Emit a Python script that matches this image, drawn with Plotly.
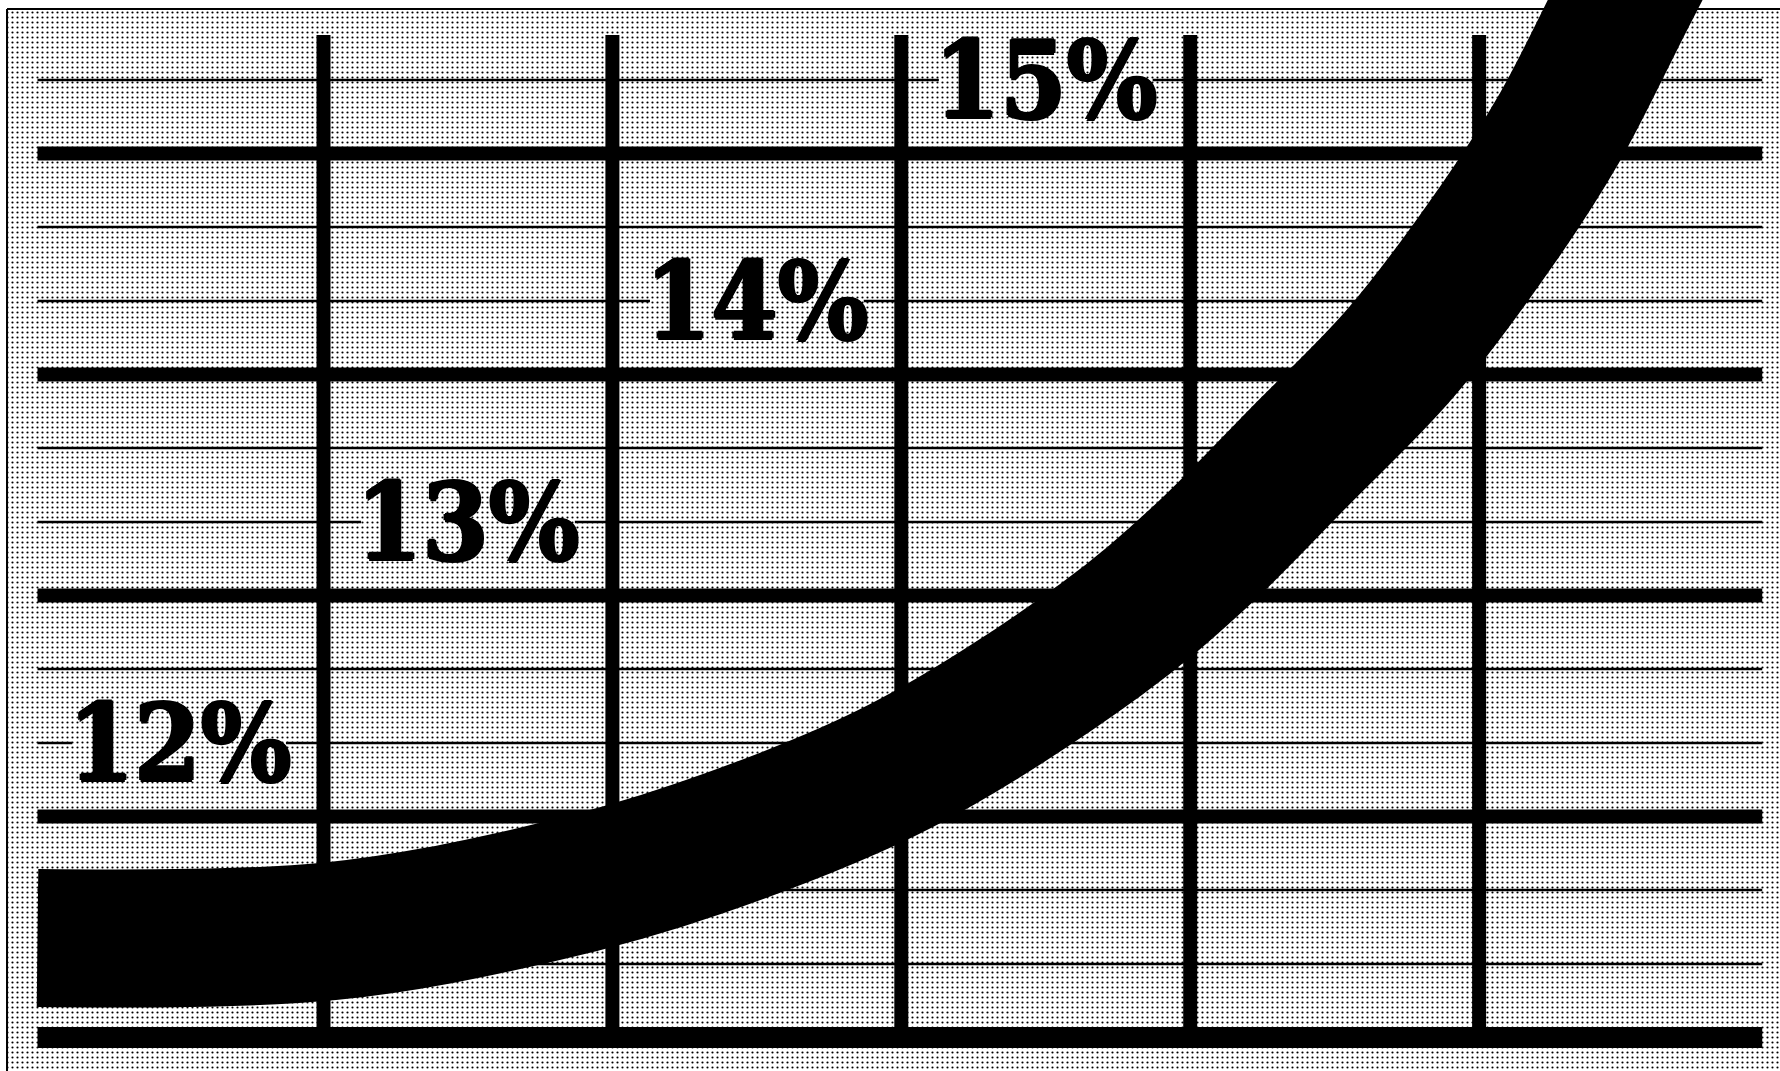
import plotly.graph_objects as go

# ---------------- data ----------------
x_verticals = [1, 2, 3, 4, 5]                 # heavy vertical rules
y_major = [0, 1, 2, 3, 4]                     # heavy horizontal rules
y_minor = [0.333, 0.667, 1.333, 1.667, 2.333, 2.667, 3.333, 3.667, 4.333]  # thin rules
rate_labels = ["12%", "13%", "14%", "15%"]
label_x = [0.5, 1.5, 2.5, 3.5]
label_y = [1.333, 2.333, 3.333, 4.333]
band_x = [0.01, 1.02, 1.75, 2.30, 3.00, 3.69, 4.03, 4.38, 4.73, 5.07, 5.28, 5.505, 5.70]
band_y = [0.45, 0.48, 0.65, 0.855, 1.23, 1.80, 2.17, 2.63, 3.10, 3.69, 4.12, 4.695, 5.19]

# ---------------- layout constants ----------------
GX0, GX1 = 0.01, 5.98        # horizontal rule extent
VTOP = 4.536                 # top of vertical rules
GAP = 0.37                   # half-width of the break in a rule behind a label
XR = [-0.1198, 6.0415]
YR = [-0.1516, 4.6946]
FRAME_X0, FRAME_Y1 = -0.0955, 4.654

fig = go.Figure()

# stippled panel with thin frame
fig.add_trace(go.Scatter(
    x=[FRAME_X0, 6.3, 6.3, FRAME_X0, FRAME_X0],
    y=[FRAME_Y1, FRAME_Y1, -0.4, -0.4, FRAME_Y1],
    mode="lines", fill="toself", fillcolor="white",
    fillpattern=dict(shape=".", fgcolor="black", bgcolor="white",
                     size=5, solidity=0.15, fillmode="replace"),
    line=dict(color="black", width=2), hoverinfo="skip", showlegend=False))

# thin rules, broken behind the labels
tx, ty = [], []
for yv in y_minor:
    cuts = [lx for lx, ly in zip(label_x, label_y) if abs(ly - yv) < 0.05]
    xs = GX0
    for c in cuts:
        tx += [xs, c - GAP, None]
        ty += [yv, yv, None]
        xs = c + GAP
    tx += [xs, GX1, None]
    ty += [yv, yv, None]
fig.add_trace(go.Scatter(x=tx, y=ty, mode="lines",
                         line=dict(color="black", width=2.5),
                         hoverinfo="skip", showlegend=False))

# heavy horizontal rules
hx, hy = [], []
for yv in y_major[1:]:
    hx += [GX0, GX1, None]
    hy += [yv, yv, None]
fig.add_trace(go.Scatter(x=hx, y=hy, mode="lines",
                         line=dict(color="black", width=14),
                         hoverinfo="skip", showlegend=False))
fig.add_trace(go.Scatter(x=[GX0, GX1], y=[y_major[0], y_major[0]], mode="lines",
                         line=dict(color="black", width=21),
                         hoverinfo="skip", showlegend=False))

# heavy vertical rules
vx, vy = [], []
for xv in x_verticals:
    vx += [xv, xv, None]
    vy += [y_major[0], VTOP, None]
fig.add_trace(go.Scatter(x=vx, y=vy, mode="lines",
                         line=dict(color="black", width=14),
                         hoverinfo="skip", showlegend=False))

# the rising band
fig.add_trace(go.Scatter(x=band_x, y=band_y, mode="lines",
                         line=dict(color="black", width=138, shape="spline", smoothing=1.0),
                         hoverinfo="skip", showlegend=False))

# labels
for t, lx, ly in zip(rate_labels, label_x, label_y):
    fig.add_annotation(x=lx, y=ly, text=t, showarrow=False,
                       xanchor="center", yanchor="middle",
                       font=dict(family="DejaVu Serif Condensed, DejaVu Serif", size=106,
                                 color="black", weight="bold",
                                 shadow="1.5px 0 0 black, -1.5px 0 0 black, 0 1.5px 0 black, 0 -1.5px 0 black"))

fig.update_layout(
    width=1780, height=1071, autosize=False,
    margin=dict(l=0, r=0, t=0, b=0, pad=0),
    paper_bgcolor="white", plot_bgcolor="white",
    xaxis=dict(range=XR, visible=False, showgrid=False, zeroline=False, fixedrange=True),
    yaxis=dict(range=YR, visible=False, showgrid=False, zeroline=False, fixedrange=True),
    showlegend=False,
)

fig.write_html("out.html", config={"displayModeBar": False},
               post_script="document.body.style.margin='0px';document.body.style.overflow='hidden';")
